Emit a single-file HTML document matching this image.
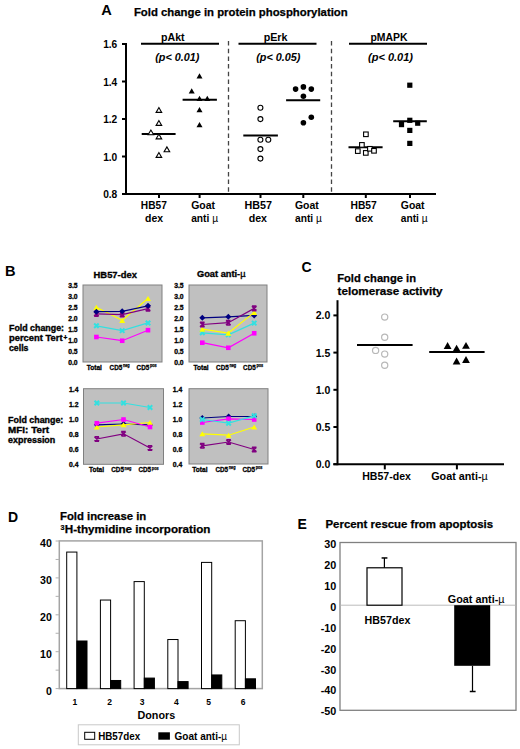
<!DOCTYPE html><html><head><meta charset="utf-8"><style>html,body{margin:0;padding:0;background:#fff;}svg{display:block;}</style></head><body>
<svg width="520" height="749" viewBox="0 0 520 749" style='font-family:"Liberation Sans",sans-serif;font-weight:bold;'>
<rect x="0" y="0" width="520" height="749" fill="#fff"/>
<text x="101.3" y="14.6" font-size="14.6" text-anchor="start" fill="#000" style="">A</text>
<text x="133.9" y="16.4" font-size="11" text-anchor="start" fill="#000" textLength="213.8" lengthAdjust="spacingAndGlyphs" stroke="#000" stroke-width="0.25" style="">Fold change in protein phosphorylation</text>
<line x1="126" y1="43" x2="126" y2="195" stroke="#000" stroke-width="2"/>
<line x1="122" y1="44.0" x2="126" y2="44.0" stroke="#000" stroke-width="2"/>
<text x="117.3" y="48.4" font-size="10.2" text-anchor="end" fill="#000" style="">1.6</text>
<line x1="122" y1="81.50000000000003" x2="126" y2="81.50000000000003" stroke="#000" stroke-width="2"/>
<text x="117.3" y="85.90000000000003" font-size="10.2" text-anchor="end" fill="#000" style="">1.4</text>
<line x1="122" y1="119.00000000000001" x2="126" y2="119.00000000000001" stroke="#000" stroke-width="2"/>
<text x="117.3" y="123.40000000000002" font-size="10.2" text-anchor="end" fill="#000" style="">1.2</text>
<line x1="122" y1="156.5" x2="126" y2="156.5" stroke="#000" stroke-width="2"/>
<text x="117.3" y="160.9" font-size="10.2" text-anchor="end" fill="#000" style="">1.0</text>
<line x1="122" y1="194.0" x2="126" y2="194.0" stroke="#000" stroke-width="2"/>
<text x="117.3" y="198.4" font-size="10.2" text-anchor="end" fill="#000" style="">0.8</text>
<line x1="122" y1="194" x2="436" y2="194" stroke="#000" stroke-width="2"/>
<line x1="159" y1="194" x2="159" y2="198" stroke="#000" stroke-width="2"/>
<line x1="199.6" y1="194" x2="199.6" y2="198" stroke="#000" stroke-width="2"/>
<line x1="260.5" y1="194" x2="260.5" y2="198" stroke="#000" stroke-width="2"/>
<line x1="303.3" y1="194" x2="303.3" y2="198" stroke="#000" stroke-width="2"/>
<line x1="365.8" y1="194" x2="365.8" y2="198" stroke="#000" stroke-width="2"/>
<line x1="410" y1="194" x2="410" y2="198" stroke="#000" stroke-width="2"/>
<line x1="228.5" y1="41" x2="228.5" y2="192" stroke="#444" stroke-width="1.3" stroke-dasharray="4.5,3.2"/>
<line x1="331.5" y1="41" x2="331.5" y2="192" stroke="#444" stroke-width="1.3" stroke-dasharray="4.5,3.2"/>
<line x1="141" y1="43.7" x2="219" y2="43.7" stroke="#000" stroke-width="2"/>
<line x1="238.5" y1="43.7" x2="316.5" y2="43.7" stroke="#000" stroke-width="2"/>
<line x1="349" y1="43.7" x2="427" y2="43.7" stroke="#000" stroke-width="2"/>
<text x="161" y="40.6" font-size="10.5" text-anchor="start" fill="#000" textLength="23.6" lengthAdjust="spacingAndGlyphs" style="">pAkt</text>
<text x="263.7" y="40.6" font-size="10.5" text-anchor="start" fill="#000" textLength="23.8" lengthAdjust="spacingAndGlyphs" style="">pErk</text>
<text x="370.5" y="40.6" font-size="10.5" text-anchor="start" fill="#000" textLength="37" lengthAdjust="spacingAndGlyphs" style="">pMAPK</text>
<text x="155.2" y="60.8" font-size="10.5" text-anchor="start" fill="#000" textLength="44.2" lengthAdjust="spacingAndGlyphs" style="font-style:italic;">(p&lt; 0.01)</text>
<text x="256.2" y="60.8" font-size="10.5" text-anchor="start" fill="#000" textLength="44.3" lengthAdjust="spacingAndGlyphs" style="font-style:italic;">(p&lt; 0.05)</text>
<text x="368" y="60.8" font-size="10.5" text-anchor="start" fill="#000" textLength="45" lengthAdjust="spacingAndGlyphs" style="font-style:italic;">(p&lt; 0.01)</text>
<text x="140.8" y="208.6" font-size="10.2" text-anchor="start" fill="#000" textLength="26" lengthAdjust="spacingAndGlyphs" style="">HB57</text>
<text x="145" y="221.5" font-size="10.2" text-anchor="start" fill="#000" textLength="18" lengthAdjust="spacingAndGlyphs" style="">dex</text>
<text x="244.5" y="208.6" font-size="10.2" text-anchor="start" fill="#000" textLength="27.5" lengthAdjust="spacingAndGlyphs" style="">HB57</text>
<text x="248.7" y="221.5" font-size="10.2" text-anchor="start" fill="#000" textLength="18.3" lengthAdjust="spacingAndGlyphs" style="">dex</text>
<text x="350.5" y="208.6" font-size="10.2" text-anchor="start" fill="#000" textLength="26.3" lengthAdjust="spacingAndGlyphs" style="">HB57</text>
<text x="355" y="221.5" font-size="10.2" text-anchor="start" fill="#000" textLength="18" lengthAdjust="spacingAndGlyphs" style="">dex</text>
<text x="191.2" y="209.0" font-size="10.2" text-anchor="start" fill="#000" textLength="23.8" lengthAdjust="spacingAndGlyphs" style="">Goat</text>
<text x="191.2" y="221.9" font-size="10.2" text-anchor="start" fill="#000" style="">anti <tspan font-weight="normal">µ</tspan></text>
<text x="295" y="209.0" font-size="10.2" text-anchor="start" fill="#000" textLength="23.8" lengthAdjust="spacingAndGlyphs" style="">Goat</text>
<text x="295" y="221.9" font-size="10.2" text-anchor="start" fill="#000" style="">anti <tspan font-weight="normal">µ</tspan></text>
<text x="400.8" y="209.0" font-size="10.2" text-anchor="start" fill="#000" textLength="23.8" lengthAdjust="spacingAndGlyphs" style="">Goat</text>
<text x="400.8" y="221.9" font-size="10.2" text-anchor="start" fill="#000" style="">anti <tspan font-weight="normal">µ</tspan></text>
<line x1="141.7" y1="134.1" x2="175.6" y2="134.1" stroke="#000" stroke-width="2"/>
<polygon points="156.10,112.42 161.70,112.42 158.90,107.58" fill="#fff" stroke="#000" stroke-width="1.1"/>
<polygon points="156.10,125.42 161.70,125.42 158.90,120.58" fill="#fff" stroke="#000" stroke-width="1.1"/>
<polygon points="148.10,134.82 153.70,134.82 150.90,129.98" fill="#fff" stroke="#000" stroke-width="1.1"/>
<polygon points="156.10,138.92 161.70,138.92 158.90,134.08" fill="#fff" stroke="#000" stroke-width="1.1"/>
<polygon points="164.10,151.72 169.70,151.72 166.90,146.88" fill="#fff" stroke="#000" stroke-width="1.1"/>
<polygon points="156.10,157.42 161.70,157.42 158.90,152.58" fill="#fff" stroke="#000" stroke-width="1.1"/>
<line x1="182.6" y1="99.7" x2="216.9" y2="99.7" stroke="#000" stroke-width="2"/>
<polygon points="196.50,78.40 202.50,78.40 199.50,73.20" fill="#000" stroke="none" stroke-width="1"/>
<polygon points="188.70,93.40 194.70,93.40 191.70,88.20" fill="#000" stroke="none" stroke-width="1"/>
<polygon points="196.50,101.00 202.50,101.00 199.50,95.80" fill="#000" stroke="none" stroke-width="1"/>
<polygon points="204.30,101.00 210.30,101.00 207.30,95.80" fill="#000" stroke="none" stroke-width="1"/>
<polygon points="196.50,112.20 202.50,112.20 199.50,107.00" fill="#000" stroke="none" stroke-width="1"/>
<polygon points="196.50,127.20 202.50,127.20 199.50,122.00" fill="#000" stroke="none" stroke-width="1"/>
<line x1="243.3" y1="135.5" x2="277.9" y2="135.5" stroke="#000" stroke-width="2"/>
<circle cx="260.4" cy="107.8" r="2.5" fill="#fff" stroke="#000" stroke-width="1.1"/>
<circle cx="260.4" cy="119.1" r="2.5" fill="#fff" stroke="#000" stroke-width="1.1"/>
<circle cx="260.4" cy="139.7" r="2.5" fill="#fff" stroke="#000" stroke-width="1.1"/>
<circle cx="268.3" cy="139.7" r="2.5" fill="#fff" stroke="#000" stroke-width="1.1"/>
<circle cx="260.4" cy="149.1" r="2.5" fill="#fff" stroke="#000" stroke-width="1.1"/>
<circle cx="260.4" cy="158.6" r="2.5" fill="#fff" stroke="#000" stroke-width="1.1"/>
<line x1="286.1" y1="100.3" x2="320.2" y2="100.3" stroke="#000" stroke-width="2"/>
<circle cx="295.6" cy="89.1" r="2.8" fill="#000" stroke="none" stroke-width="1"/>
<circle cx="303.4" cy="86.9" r="2.8" fill="#000" stroke="none" stroke-width="1"/>
<circle cx="311.3" cy="89.1" r="2.8" fill="#000" stroke="none" stroke-width="1"/>
<circle cx="303.4" cy="96.2" r="2.8" fill="#000" stroke="none" stroke-width="1"/>
<circle cx="311.3" cy="117.2" r="2.8" fill="#000" stroke="none" stroke-width="1"/>
<circle cx="303.4" cy="122.8" r="2.8" fill="#000" stroke="none" stroke-width="1"/>
<line x1="348.5" y1="147.2" x2="382.6" y2="147.2" stroke="#000" stroke-width="2"/>
<rect x="363.60" y="132.00" width="4.6" height="4.6" fill="#fff" stroke="#000" stroke-width="1.1"/>
<rect x="359.60" y="142.60" width="4.6" height="4.6" fill="#fff" stroke="#000" stroke-width="1.1"/>
<rect x="355.50" y="148.80" width="4.6" height="4.6" fill="#fff" stroke="#000" stroke-width="1.1"/>
<rect x="363.50" y="150.60" width="4.6" height="4.6" fill="#fff" stroke="#000" stroke-width="1.1"/>
<rect x="367.60" y="146.50" width="4.6" height="4.6" fill="#fff" stroke="#000" stroke-width="1.1"/>
<rect x="371.70" y="148.50" width="4.6" height="4.6" fill="#fff" stroke="#000" stroke-width="1.1"/>
<line x1="393.2" y1="121.3" x2="426.8" y2="121.3" stroke="#000" stroke-width="2"/>
<rect x="407.20" y="82.60" width="5.2" height="5.2" fill="#000" stroke="none" stroke-width="1"/>
<rect x="407.20" y="117.70" width="5.2" height="5.2" fill="#000" stroke="none" stroke-width="1"/>
<rect x="398.90" y="122.00" width="5.2" height="5.2" fill="#000" stroke="none" stroke-width="1"/>
<rect x="415.10" y="120.60" width="5.2" height="5.2" fill="#000" stroke="none" stroke-width="1"/>
<rect x="407.20" y="127.80" width="5.2" height="5.2" fill="#000" stroke="none" stroke-width="1"/>
<rect x="407.20" y="140.80" width="5.2" height="5.2" fill="#000" stroke="none" stroke-width="1"/>
<text x="5.0" y="275.5" font-size="14.6" text-anchor="start" fill="#000" style="">B</text>
<rect x="83" y="285" width="79" height="77" fill="#c0c0c0" stroke="#808080" stroke-width="1"/>
<text x="77.6" y="287.8" font-size="6.8" text-anchor="end" fill="#000" stroke="#000" stroke-width="0.3" style="">3.5</text>
<text x="77.6" y="298.8" font-size="6.8" text-anchor="end" fill="#000" stroke="#000" stroke-width="0.3" style="">3.0</text>
<text x="77.6" y="309.8" font-size="6.8" text-anchor="end" fill="#000" stroke="#000" stroke-width="0.3" style="">2.5</text>
<text x="77.6" y="320.8" font-size="6.8" text-anchor="end" fill="#000" stroke="#000" stroke-width="0.3" style="">2.0</text>
<text x="77.6" y="331.8" font-size="6.8" text-anchor="end" fill="#000" stroke="#000" stroke-width="0.3" style="">1.5</text>
<text x="77.6" y="342.8" font-size="6.8" text-anchor="end" fill="#000" stroke="#000" stroke-width="0.3" style="">1.0</text>
<text x="77.6" y="353.8" font-size="6.8" text-anchor="end" fill="#000" stroke="#000" stroke-width="0.3" style="">0.5</text>
<text x="77.6" y="364.8" font-size="6.8" text-anchor="end" fill="#000" stroke="#000" stroke-width="0.3" style="">0.0</text>
<polyline points="96.4,307.3 122.2,320.3 148,298.5" fill="none" stroke="#ffff00" stroke-width="1.2"/>
<polygon points="93.40,309.90 99.40,309.90 96.40,304.70" fill="#ffff00" stroke="none" stroke-width="1"/>
<polygon points="119.20,322.88 125.20,322.88 122.20,317.68" fill="#ffff00" stroke="none" stroke-width="1"/>
<polygon points="145.00,301.10 151.00,301.10 148.00,295.90" fill="#ffff00" stroke="none" stroke-width="1"/>
<polyline points="96.4,325.8 122.2,330.6 148,322.9" fill="none" stroke="#33e0e0" stroke-width="1.2"/>
<path d="M94.15,323.53000000000003L98.65,328.03000000000003M98.65,323.53000000000003L94.15,328.03000000000003" stroke="#33e0e0" stroke-width="2" fill="none"/>
<path d="M119.95,328.37L124.45,332.87M124.45,328.37L119.95,332.87" stroke="#33e0e0" stroke-width="2" fill="none"/>
<path d="M145.75,320.67L150.25,325.17M150.25,320.67L145.75,325.17" stroke="#33e0e0" stroke-width="2" fill="none"/>
<polyline points="96.4,337.0 122.2,340.7 148,330.2" fill="none" stroke="#ff00ff" stroke-width="1.2"/>
<rect x="94.10" y="334.70" width="4.6" height="4.6" fill="#ff00ff" stroke="none" stroke-width="1"/>
<rect x="119.90" y="338.44" width="4.6" height="4.6" fill="#ff00ff" stroke="none" stroke-width="1"/>
<rect x="145.70" y="327.88" width="4.6" height="4.6" fill="#ff00ff" stroke="none" stroke-width="1"/>
<polyline points="96.4,313.9 122.2,314.6 148,308.6" fill="none" stroke="#800080" stroke-width="1.2"/>
<path d="M94.15,311.65L98.65,316.15M98.65,311.65L94.15,316.15M94.15,311.65H98.65M94.15,316.15H98.65" stroke="#800080" stroke-width="1.6" fill="none"/>
<path d="M119.95,312.31L124.45,316.81M124.45,312.31L119.95,316.81M119.95,312.31H124.45M119.95,316.81H124.45" stroke="#800080" stroke-width="1.6" fill="none"/>
<path d="M145.75,306.37L150.25,310.87M150.25,306.37L145.75,310.87M145.75,306.37H150.25M145.75,310.87H150.25" stroke="#800080" stroke-width="1.6" fill="none"/>
<polyline points="96.4,311.7 122.2,311.3 148,305.8" fill="none" stroke="#000080" stroke-width="1.2"/>
<polygon points="96.4,308.70000000000005 99.4,311.70000000000005 96.4,314.70000000000005 93.4,311.70000000000005" fill="#000080"/>
<polygon points="122.2,308.26 125.2,311.26 122.2,314.26 119.2,311.26" fill="#000080"/>
<polygon points="148,302.76 151.0,305.76 148,308.76 145.0,305.76" fill="#000080"/>
<text x="86.7" y="370" font-size="6.8" text-anchor="start" fill="#000" textLength="15.2" lengthAdjust="spacingAndGlyphs" stroke="#000" stroke-width="0.3" style="">Total</text>
<text x="109.6" y="370" font-size="6.8" text-anchor="start" fill="#000" textLength="12.6" lengthAdjust="spacingAndGlyphs" stroke="#000" stroke-width="0.3" style="">CD5</text>
<text x="122.89999999999999" y="367.3" font-size="4.6" text-anchor="start" fill="#000" textLength="6.8" lengthAdjust="spacingAndGlyphs" stroke="#000" stroke-width="0.25" style="">neg</text>
<text x="136.6" y="370" font-size="6.8" text-anchor="start" fill="#000" textLength="12.6" lengthAdjust="spacingAndGlyphs" stroke="#000" stroke-width="0.3" style="">CD5</text>
<text x="149.9" y="367.3" font-size="4.6" text-anchor="start" fill="#000" textLength="6.8" lengthAdjust="spacingAndGlyphs" stroke="#000" stroke-width="0.25" style="">pos</text>
<rect x="189" y="285" width="78" height="77" fill="#c0c0c0" stroke="#808080" stroke-width="1"/>
<text x="183.6" y="287.8" font-size="6.8" text-anchor="end" fill="#000" stroke="#000" stroke-width="0.3" style="">3.5</text>
<text x="183.6" y="298.8" font-size="6.8" text-anchor="end" fill="#000" stroke="#000" stroke-width="0.3" style="">3.0</text>
<text x="183.6" y="309.8" font-size="6.8" text-anchor="end" fill="#000" stroke="#000" stroke-width="0.3" style="">2.5</text>
<text x="183.6" y="320.8" font-size="6.8" text-anchor="end" fill="#000" stroke="#000" stroke-width="0.3" style="">2.0</text>
<text x="183.6" y="331.8" font-size="6.8" text-anchor="end" fill="#000" stroke="#000" stroke-width="0.3" style="">1.5</text>
<text x="183.6" y="342.8" font-size="6.8" text-anchor="end" fill="#000" stroke="#000" stroke-width="0.3" style="">1.0</text>
<text x="183.6" y="353.8" font-size="6.8" text-anchor="end" fill="#000" stroke="#000" stroke-width="0.3" style="">0.5</text>
<text x="183.6" y="364.8" font-size="6.8" text-anchor="end" fill="#000" stroke="#000" stroke-width="0.3" style="">0.0</text>
<polyline points="202.3,317.9 228.3,316.8 254.2,315.4" fill="none" stroke="#000080" stroke-width="1.2"/>
<polygon points="202.3,314.86 205.3,317.86 202.3,320.86 199.3,317.86" fill="#000080"/>
<polygon points="228.3,313.76 231.3,316.76 228.3,319.76 225.3,316.76" fill="#000080"/>
<polygon points="254.2,312.44 257.2,315.44 254.2,318.44 251.2,315.44" fill="#000080"/>
<polyline points="202.3,332.8 228.3,334.8 254.2,323.1" fill="none" stroke="#33e0e0" stroke-width="1.2"/>
<path d="M200.05,330.57L204.55,335.07M204.55,330.57L200.05,335.07" stroke="#33e0e0" stroke-width="2" fill="none"/>
<path d="M226.05,332.55L230.55,337.05M230.55,332.55L226.05,337.05" stroke="#33e0e0" stroke-width="2" fill="none"/>
<path d="M251.95,320.89L256.45,325.39M256.45,320.89L251.95,325.39" stroke="#33e0e0" stroke-width="2" fill="none"/>
<polyline points="202.3,329.1 228.3,333.0 254.2,312.4" fill="none" stroke="#ffff00" stroke-width="1.2"/>
<polygon points="199.30,331.68 205.30,331.68 202.30,326.48" fill="#ffff00" stroke="none" stroke-width="1"/>
<polygon points="225.30,335.64 231.30,335.64 228.30,330.44" fill="#ffff00" stroke="none" stroke-width="1"/>
<polygon points="251.20,314.96 257.20,314.96 254.20,309.76" fill="#ffff00" stroke="none" stroke-width="1"/>
<polyline points="202.3,324.5 228.3,322.7 254.2,308.4" fill="none" stroke="#800080" stroke-width="1.2"/>
<path d="M200.05,322.21000000000004L204.55,326.71000000000004M204.55,322.21000000000004L200.05,326.71000000000004M200.05,322.21000000000004H204.55M200.05,326.71000000000004H204.55" stroke="#800080" stroke-width="1.6" fill="none"/>
<path d="M226.05,320.45L230.55,324.95M230.55,320.45L226.05,324.95M226.05,320.45H230.55M226.05,324.95H230.55" stroke="#800080" stroke-width="1.6" fill="none"/>
<path d="M251.95,306.15L256.45,310.65M256.45,306.15L251.95,310.65M251.95,306.15H256.45M251.95,310.65H256.45" stroke="#800080" stroke-width="1.6" fill="none"/>
<polyline points="202.3,342.7 228.3,347.8 254.2,333.3" fill="none" stroke="#ff00ff" stroke-width="1.2"/>
<rect x="200.00" y="340.42" width="4.6" height="4.6" fill="#ff00ff" stroke="none" stroke-width="1"/>
<rect x="226.00" y="345.48" width="4.6" height="4.6" fill="#ff00ff" stroke="none" stroke-width="1"/>
<rect x="251.90" y="330.96" width="4.6" height="4.6" fill="#ff00ff" stroke="none" stroke-width="1"/>
<text x="193.5" y="370" font-size="6.8" text-anchor="start" fill="#000" textLength="15.2" lengthAdjust="spacingAndGlyphs" stroke="#000" stroke-width="0.3" style="">Total</text>
<text x="216.1" y="370" font-size="6.8" text-anchor="start" fill="#000" textLength="12.6" lengthAdjust="spacingAndGlyphs" stroke="#000" stroke-width="0.3" style="">CD5</text>
<text x="229.4" y="367.3" font-size="4.6" text-anchor="start" fill="#000" textLength="6.8" lengthAdjust="spacingAndGlyphs" stroke="#000" stroke-width="0.25" style="">neg</text>
<text x="243.1" y="370" font-size="6.8" text-anchor="start" fill="#000" textLength="12.6" lengthAdjust="spacingAndGlyphs" stroke="#000" stroke-width="0.3" style="">CD5</text>
<text x="256.4" y="367.3" font-size="4.6" text-anchor="start" fill="#000" textLength="6.8" lengthAdjust="spacingAndGlyphs" stroke="#000" stroke-width="0.25" style="">pos</text>
<rect x="83.5" y="388.7" width="80.0" height="75.60000000000002" fill="#c0c0c0" stroke="#808080" stroke-width="1"/>
<text x="78.5" y="392.0" font-size="6.8" text-anchor="end" fill="#000" stroke="#000" stroke-width="0.3" style="">1.4</text>
<text x="78.5" y="407.0" font-size="6.8" text-anchor="end" fill="#000" stroke="#000" stroke-width="0.3" style="">1.2</text>
<text x="78.5" y="422.0" font-size="6.8" text-anchor="end" fill="#000" stroke="#000" stroke-width="0.3" style="">1.0</text>
<text x="78.5" y="437.0" font-size="6.8" text-anchor="end" fill="#000" stroke="#000" stroke-width="0.3" style="">0.8</text>
<text x="78.5" y="452.0" font-size="6.8" text-anchor="end" fill="#000" stroke="#000" stroke-width="0.3" style="">0.6</text>
<text x="78.5" y="467.0" font-size="6.8" text-anchor="end" fill="#000" stroke="#000" stroke-width="0.3" style="">0.4</text>
<polyline points="96.8,424.8 123.5,424.0 150,424.8" fill="none" stroke="#000080" stroke-width="1.2"/>
<polygon points="96.8,421.75 99.8,424.75 96.8,427.75 93.8,424.75" fill="#000080"/>
<polygon points="123.5,421.0 126.5,424.0 123.5,427.0 120.5,424.0" fill="#000080"/>
<polygon points="150,421.75 153.0,424.75 150,427.75 147.0,424.75" fill="#000080"/>
<polyline points="96.8,427.0 123.5,424.8 150,422.5" fill="none" stroke="#ffff00" stroke-width="1.2"/>
<polygon points="93.80,429.60 99.80,429.60 96.80,424.40" fill="#ffff00" stroke="none" stroke-width="1"/>
<polygon points="120.50,427.35 126.50,427.35 123.50,422.15" fill="#ffff00" stroke="none" stroke-width="1"/>
<polygon points="147.00,425.10 153.00,425.10 150.00,419.90" fill="#ffff00" stroke="none" stroke-width="1"/>
<polyline points="96.8,423.2 123.5,419.5 150,427.0" fill="none" stroke="#ff00ff" stroke-width="1.2"/>
<rect x="94.50" y="420.95" width="4.6" height="4.6" fill="#ff00ff" stroke="none" stroke-width="1"/>
<rect x="121.20" y="417.20" width="4.6" height="4.6" fill="#ff00ff" stroke="none" stroke-width="1"/>
<rect x="147.70" y="424.70" width="4.6" height="4.6" fill="#ff00ff" stroke="none" stroke-width="1"/>
<polyline points="96.8,439.0 123.5,433.8 150,448.0" fill="none" stroke="#800080" stroke-width="1.2"/>
<path d="M94.55,436.75L99.05,441.25M99.05,436.75L94.55,441.25M94.55,436.75H99.05M94.55,441.25H99.05" stroke="#800080" stroke-width="1.6" fill="none"/>
<path d="M121.25,431.5L125.75,436.0M125.75,431.5L121.25,436.0M121.25,431.5H125.75M121.25,436.0H125.75" stroke="#800080" stroke-width="1.6" fill="none"/>
<path d="M147.75,445.75L152.25,450.25M152.25,445.75L147.75,450.25M147.75,445.75H152.25M147.75,450.25H152.25" stroke="#800080" stroke-width="1.6" fill="none"/>
<polyline points="96.8,403.0 123.5,403.0 150,407.5" fill="none" stroke="#33e0e0" stroke-width="1.2"/>
<path d="M94.55,400.75L99.05,405.25M99.05,400.75L94.55,405.25" stroke="#33e0e0" stroke-width="2" fill="none"/>
<path d="M121.25,400.75L125.75,405.25M125.75,400.75L121.25,405.25" stroke="#33e0e0" stroke-width="2" fill="none"/>
<path d="M147.75,405.25L152.25,409.75M152.25,405.25L147.75,409.75" stroke="#33e0e0" stroke-width="2" fill="none"/>
<text x="88.9" y="472.3" font-size="6.8" text-anchor="start" fill="#000" textLength="15.2" lengthAdjust="spacingAndGlyphs" stroke="#000" stroke-width="0.3" style="">Total</text>
<text x="111.3" y="472.3" font-size="6.8" text-anchor="start" fill="#000" textLength="12.6" lengthAdjust="spacingAndGlyphs" stroke="#000" stroke-width="0.3" style="">CD5</text>
<text x="124.6" y="469.6" font-size="4.6" text-anchor="start" fill="#000" textLength="6.8" lengthAdjust="spacingAndGlyphs" stroke="#000" stroke-width="0.25" style="">neg</text>
<text x="138.5" y="472.3" font-size="6.8" text-anchor="start" fill="#000" textLength="12.6" lengthAdjust="spacingAndGlyphs" stroke="#000" stroke-width="0.3" style="">CD5</text>
<text x="151.8" y="469.6" font-size="4.6" text-anchor="start" fill="#000" textLength="6.8" lengthAdjust="spacingAndGlyphs" stroke="#000" stroke-width="0.25" style="">pos</text>
<rect x="189" y="388.7" width="79" height="75.30000000000001" fill="#c0c0c0" stroke="#808080" stroke-width="1"/>
<text x="182.3" y="392.0" font-size="6.8" text-anchor="end" fill="#000" stroke="#000" stroke-width="0.3" style="">1.4</text>
<text x="182.3" y="407.0" font-size="6.8" text-anchor="end" fill="#000" stroke="#000" stroke-width="0.3" style="">1.2</text>
<text x="182.3" y="422.0" font-size="6.8" text-anchor="end" fill="#000" stroke="#000" stroke-width="0.3" style="">1.0</text>
<text x="182.3" y="437.0" font-size="6.8" text-anchor="end" fill="#000" stroke="#000" stroke-width="0.3" style="">0.8</text>
<text x="182.3" y="452.0" font-size="6.8" text-anchor="end" fill="#000" stroke="#000" stroke-width="0.3" style="">0.6</text>
<text x="182.3" y="467.0" font-size="6.8" text-anchor="end" fill="#000" stroke="#000" stroke-width="0.3" style="">0.4</text>
<polyline points="202.3,418.0 228.6,416.5 254.2,416.5" fill="none" stroke="#000080" stroke-width="1.2"/>
<polygon points="202.3,415.0 205.3,418.0 202.3,421.0 199.3,418.0" fill="#000080"/>
<polygon points="228.6,413.5 231.6,416.5 228.6,419.5 225.6,416.5" fill="#000080"/>
<polygon points="254.2,413.5 257.2,416.5 254.2,419.5 251.2,416.5" fill="#000080"/>
<polyline points="202.3,433.8 228.6,435.2 254.2,427.0" fill="none" stroke="#ffff00" stroke-width="1.2"/>
<polygon points="199.30,436.35 205.30,436.35 202.30,431.15" fill="#ffff00" stroke="none" stroke-width="1"/>
<polygon points="225.60,437.85 231.60,437.85 228.60,432.65" fill="#ffff00" stroke="none" stroke-width="1"/>
<polygon points="251.20,429.60 257.20,429.60 254.20,424.40" fill="#ffff00" stroke="none" stroke-width="1"/>
<polyline points="202.3,445.8 228.6,442.0 254.2,449.5" fill="none" stroke="#800080" stroke-width="1.2"/>
<path d="M200.05,443.5L204.55,448.0M204.55,443.5L200.05,448.0M200.05,443.5H204.55M200.05,448.0H204.55" stroke="#800080" stroke-width="1.6" fill="none"/>
<path d="M226.35,439.75L230.85,444.25M230.85,439.75L226.35,444.25M226.35,439.75H230.85M226.35,444.25H230.85" stroke="#800080" stroke-width="1.6" fill="none"/>
<path d="M251.95,447.25L256.45,451.75M256.45,447.25L251.95,451.75M251.95,447.25H256.45M251.95,451.75H256.45" stroke="#800080" stroke-width="1.6" fill="none"/>
<polyline points="202.3,422.5 228.6,418.8 254.2,419.5" fill="none" stroke="#ff00ff" stroke-width="1.2"/>
<rect x="200.00" y="420.20" width="4.6" height="4.6" fill="#ff00ff" stroke="none" stroke-width="1"/>
<rect x="226.30" y="416.45" width="4.6" height="4.6" fill="#ff00ff" stroke="none" stroke-width="1"/>
<rect x="251.90" y="417.20" width="4.6" height="4.6" fill="#ff00ff" stroke="none" stroke-width="1"/>
<polyline points="202.3,419.5 228.6,423.2 254.2,415.8" fill="none" stroke="#33e0e0" stroke-width="1.2"/>
<path d="M200.05,417.25L204.55,421.75M204.55,417.25L200.05,421.75" stroke="#33e0e0" stroke-width="2" fill="none"/>
<path d="M226.35,421.0L230.85,425.5M230.85,421.0L226.35,425.5" stroke="#33e0e0" stroke-width="2" fill="none"/>
<path d="M251.95,413.5L256.45,418.0M256.45,413.5L251.95,418.0" stroke="#33e0e0" stroke-width="2" fill="none"/>
<text x="192.3" y="472" font-size="6.8" text-anchor="start" fill="#000" textLength="15.2" lengthAdjust="spacingAndGlyphs" stroke="#000" stroke-width="0.3" style="">Total</text>
<text x="215.4" y="472" font-size="6.8" text-anchor="start" fill="#000" textLength="12.6" lengthAdjust="spacingAndGlyphs" stroke="#000" stroke-width="0.3" style="">CD5</text>
<text x="228.70000000000002" y="469.3" font-size="4.6" text-anchor="start" fill="#000" textLength="6.8" lengthAdjust="spacingAndGlyphs" stroke="#000" stroke-width="0.25" style="">neg</text>
<text x="242.4" y="472" font-size="6.8" text-anchor="start" fill="#000" textLength="12.6" lengthAdjust="spacingAndGlyphs" stroke="#000" stroke-width="0.3" style="">CD5</text>
<text x="255.70000000000002" y="469.3" font-size="4.6" text-anchor="start" fill="#000" textLength="6.8" lengthAdjust="spacingAndGlyphs" stroke="#000" stroke-width="0.25" style="">pos</text>
<text x="93.6" y="277.7" font-size="8.2" text-anchor="start" fill="#000" textLength="43.3" lengthAdjust="spacingAndGlyphs" stroke="#000" stroke-width="0.3" style="">HB57-dex</text>
<text x="197" y="277.4" font-size="8.2" text-anchor="start" fill="#000" textLength="48.5" lengthAdjust="spacingAndGlyphs" stroke="#000" stroke-width="0.3" style="">Goat anti-<tspan font-weight="normal">µ</tspan></text>
<text x="9.0" y="330.6" font-size="8.8" text-anchor="start" fill="#000" textLength="55" lengthAdjust="spacingAndGlyphs" stroke="#000" stroke-width="0.35" style="">Fold change:</text>
<text x="9.0" y="340.8" font-size="8.8" text-anchor="start" fill="#000" textLength="53.5" lengthAdjust="spacingAndGlyphs" stroke="#000" stroke-width="0.35" style="">percent Tert</text>
<text x="63.6" y="339.6" font-size="6.5" text-anchor="start" fill="#000" stroke="#000" stroke-width="0.35" style="">+</text>
<text x="9.0" y="351.0" font-size="8.8" text-anchor="start" fill="#000" textLength="19.5" lengthAdjust="spacingAndGlyphs" stroke="#000" stroke-width="0.35" style="">cells</text>
<text x="8.1" y="423.1" font-size="8.8" text-anchor="start" fill="#000" textLength="55.2" lengthAdjust="spacingAndGlyphs" stroke="#000" stroke-width="0.35" style="">Fold change:</text>
<text x="8.1" y="433.4" font-size="8.8" text-anchor="start" fill="#000" textLength="41" lengthAdjust="spacingAndGlyphs" stroke="#000" stroke-width="0.35" style="">MFI: Tert</text>
<text x="8.1" y="443.3" font-size="8.8" text-anchor="start" fill="#000" textLength="47.2" lengthAdjust="spacingAndGlyphs" stroke="#000" stroke-width="0.35" style="">expression</text>
<text x="301.6" y="272.0" font-size="14" text-anchor="start" fill="#000" style="">C</text>
<text x="337.2" y="282.3" font-size="10.8" text-anchor="start" fill="#000" textLength="78.8" lengthAdjust="spacingAndGlyphs" stroke="#000" stroke-width="0.25" style="">Fold change in</text>
<text x="337.6" y="294.7" font-size="10.8" text-anchor="start" fill="#000" textLength="105" lengthAdjust="spacingAndGlyphs" stroke="#000" stroke-width="0.25" style="">telomerase activity</text>
<line x1="337.5" y1="300.2" x2="337.5" y2="465.2" stroke="#000" stroke-width="2"/>
<line x1="333.4" y1="464.2" x2="504" y2="464.2" stroke="#000" stroke-width="2"/>
<line x1="333.4" y1="315.4" x2="337.5" y2="315.4" stroke="#000" stroke-width="2"/>
<text x="330.3" y="319.29999999999995" font-size="10.5" text-anchor="end" fill="#000" style="">2.0</text>
<line x1="333.4" y1="352.59999999999997" x2="337.5" y2="352.59999999999997" stroke="#000" stroke-width="2"/>
<text x="330.3" y="356.49999999999994" font-size="10.5" text-anchor="end" fill="#000" style="">1.5</text>
<line x1="333.4" y1="389.79999999999995" x2="337.5" y2="389.79999999999995" stroke="#000" stroke-width="2"/>
<text x="330.3" y="393.69999999999993" font-size="10.5" text-anchor="end" fill="#000" style="">1.0</text>
<line x1="333.4" y1="427.0" x2="337.5" y2="427.0" stroke="#000" stroke-width="2"/>
<text x="330.3" y="430.9" font-size="10.5" text-anchor="end" fill="#000" style="">0.5</text>
<line x1="333.4" y1="464.2" x2="337.5" y2="464.2" stroke="#000" stroke-width="2"/>
<text x="330.3" y="468.09999999999997" font-size="10.5" text-anchor="end" fill="#000" style="">0.0</text>
<line x1="384.8" y1="464.2" x2="384.8" y2="469.4" stroke="#000" stroke-width="2"/>
<line x1="456.9" y1="464.2" x2="456.9" y2="469.4" stroke="#000" stroke-width="2"/>
<text x="362.2" y="480.1" font-size="10.4" text-anchor="start" fill="#000" textLength="48.7" lengthAdjust="spacingAndGlyphs" style="">HB57-dex</text>
<text x="431.2" y="480.1" font-size="10.4" text-anchor="start" fill="#000" textLength="56.6" lengthAdjust="spacingAndGlyphs" style="">Goat anti-<tspan font-weight="normal">µ</tspan></text>
<line x1="357" y1="345" x2="412.6" y2="345" stroke="#000" stroke-width="2"/>
<circle cx="384.7" cy="317.1" r="3.1" fill="#fff" stroke="#b8b8b8" stroke-width="1.2"/>
<circle cx="384.7" cy="337.3" r="3.1" fill="#fff" stroke="#b8b8b8" stroke-width="1.2"/>
<circle cx="375.6" cy="350.4" r="3.1" fill="#fff" stroke="#b8b8b8" stroke-width="1.2"/>
<circle cx="384.7" cy="354.1" r="3.1" fill="#fff" stroke="#b8b8b8" stroke-width="1.2"/>
<circle cx="384.7" cy="365.2" r="3.1" fill="#fff" stroke="#b8b8b8" stroke-width="1.2"/>
<polygon points="443.70,348.88 451.50,348.88 447.60,342.12" fill="#000" stroke="none" stroke-width="1"/>
<polygon points="452.70,351.58 460.50,351.58 456.60,344.82" fill="#000" stroke="none" stroke-width="1"/>
<polygon points="462.10,348.68 469.90,348.68 466.00,341.92" fill="#000" stroke="none" stroke-width="1"/>
<polygon points="452.70,364.38 460.50,364.38 456.60,357.62" fill="#000" stroke="none" stroke-width="1"/>
<polygon points="462.10,362.88 469.90,362.88 466.00,356.12" fill="#000" stroke="none" stroke-width="1"/>
<line x1="429.2" y1="351.9" x2="484.6" y2="351.9" stroke="#000" stroke-width="2"/>
<text x="8.0" y="522.4" font-size="14" text-anchor="start" fill="#000" style="">D</text>
<text x="60.0" y="520.2" font-size="10.6" text-anchor="start" fill="#000" textLength="86.2" lengthAdjust="spacingAndGlyphs" stroke="#000" stroke-width="0.25" style="">Fold increase in</text>
<text x="60.6" y="529.6" font-size="7.2" text-anchor="start" fill="#000" stroke="#000" stroke-width="0.2" style="">3</text>
<text x="64.8" y="533.1" font-size="10.6" text-anchor="start" fill="#000" textLength="145.6" lengthAdjust="spacingAndGlyphs" stroke="#000" stroke-width="0.25" style="">H-thymidine incorporation</text>
<rect x="59.3" y="540.9" width="203.0" height="147.7" fill="#fff" stroke="#a4a4a4" stroke-width="1.5"/>
<line x1="55.6" y1="688.6" x2="59.3" y2="688.6" stroke="#b0b0b0" stroke-width="1"/>
<line x1="55.6" y1="670.15" x2="59.3" y2="670.15" stroke="#b0b0b0" stroke-width="1"/>
<line x1="55.6" y1="651.7" x2="59.3" y2="651.7" stroke="#b0b0b0" stroke-width="1"/>
<line x1="55.6" y1="633.25" x2="59.3" y2="633.25" stroke="#b0b0b0" stroke-width="1"/>
<line x1="55.6" y1="614.8000000000001" x2="59.3" y2="614.8000000000001" stroke="#b0b0b0" stroke-width="1"/>
<line x1="55.6" y1="596.35" x2="59.3" y2="596.35" stroke="#b0b0b0" stroke-width="1"/>
<line x1="55.6" y1="577.9" x2="59.3" y2="577.9" stroke="#b0b0b0" stroke-width="1"/>
<line x1="55.6" y1="559.45" x2="59.3" y2="559.45" stroke="#b0b0b0" stroke-width="1"/>
<line x1="55.6" y1="541.0" x2="59.3" y2="541.0" stroke="#b0b0b0" stroke-width="1"/>
<text x="51.8" y="546.9" font-size="10.6" text-anchor="end" fill="#000" style="">40</text>
<text x="51.8" y="583.8" font-size="10.6" text-anchor="end" fill="#000" style="">30</text>
<text x="51.8" y="620.7" font-size="10.6" text-anchor="end" fill="#000" style="">20</text>
<text x="51.8" y="657.6" font-size="10.6" text-anchor="end" fill="#000" style="">10</text>
<text x="51.8" y="694.5" font-size="10.6" text-anchor="end" fill="#000" style="">0</text>
<rect x="66.7" y="552.07" width="10.2" height="136.52999999999997" fill="#fff" stroke="#000" stroke-width="1.0"/>
<rect x="76.9" y="640.999" width="10.1" height="47.601" fill="#000" stroke="#000" stroke-width="1.0"/>
<text x="74.8" y="705.2" font-size="8.5" text-anchor="middle" fill="#000" style="">1</text>
<rect x="100.4" y="600.04" width="10.2" height="88.56000000000006" fill="#fff" stroke="#000" stroke-width="1.0"/>
<rect x="110.60000000000001" y="680.482" width="10.1" height="8.118000000000052" fill="#000" stroke="#000" stroke-width="1.0"/>
<text x="109.7" y="705.2" font-size="8.5" text-anchor="middle" fill="#000" style="">2</text>
<rect x="134.10000000000002" y="581.59" width="10.2" height="107.00999999999999" fill="#fff" stroke="#000" stroke-width="1.0"/>
<rect x="144.3" y="678.0835000000001" width="10.1" height="10.51649999999995" fill="#000" stroke="#000" stroke-width="1.0"/>
<text x="142.1" y="705.2" font-size="8.5" text-anchor="middle" fill="#000" style="">3</text>
<rect x="167.8" y="639.523" width="10.2" height="49.077" fill="#fff" stroke="#000" stroke-width="1.0"/>
<rect x="178.0" y="681.589" width="10.1" height="7.010999999999967" fill="#000" stroke="#000" stroke-width="1.0"/>
<text x="176.4" y="705.2" font-size="8.5" text-anchor="middle" fill="#000" style="">4</text>
<rect x="201.50000000000003" y="562.402" width="10.2" height="126.19799999999998" fill="#fff" stroke="#000" stroke-width="1.0"/>
<rect x="211.70000000000002" y="674.947" width="10.1" height="13.65300000000002" fill="#000" stroke="#000" stroke-width="1.0"/>
<text x="208.6" y="705.2" font-size="8.5" text-anchor="middle" fill="#000" style="">5</text>
<rect x="235.20000000000002" y="620.7040000000001" width="10.2" height="67.89599999999996" fill="#fff" stroke="#000" stroke-width="1.0"/>
<rect x="245.4" y="678.8215" width="10.1" height="9.778500000000008" fill="#000" stroke="#000" stroke-width="1.0"/>
<text x="243.2" y="705.2" font-size="8.5" text-anchor="middle" fill="#000" style="">6</text>
<text x="137.5" y="718.7" font-size="10.8" text-anchor="start" fill="#000" textLength="37.7" lengthAdjust="spacingAndGlyphs" style="">Donors</text>
<rect x="78.3" y="724.8" width="161" height="20" fill="#fff" stroke="#c8c8c8" stroke-width="1"/>
<rect x="84.7" y="732.3" width="10" height="7" fill="#fff" stroke="#000" stroke-width="1"/>
<text x="98.2" y="739.5" font-size="10" text-anchor="start" fill="#000" textLength="42" lengthAdjust="spacingAndGlyphs" style="">HB57dex</text>
<rect x="158.3" y="732.3" width="11.6" height="7.4" fill="#000" stroke="none" stroke-width="1"/>
<text x="174.6" y="739.5" font-size="10" text-anchor="start" fill="#000" style="">Goat anti-<tspan font-weight="normal">µ</tspan></text>
<text x="297.6" y="528.9" font-size="14" text-anchor="start" fill="#000" style="">E</text>
<text x="325.5" y="527.6" font-size="10.8" text-anchor="start" fill="#000" textLength="167.6" lengthAdjust="spacingAndGlyphs" stroke="#000" stroke-width="0.25" style="">Percent rescue from apoptosis</text>
<rect x="340" y="542.5" width="176" height="167.8" fill="#fff" stroke="#808080" stroke-width="1.3"/>
<line x1="340.6" y1="605.2" x2="515.4" y2="605.2" stroke="#bbb" stroke-width="1"/>
<text x="336.3" y="548.1" font-size="10.8" text-anchor="end" fill="#000" style="">30</text>
<text x="336.3" y="569.0000000000001" font-size="10.8" text-anchor="end" fill="#000" style="">20</text>
<text x="336.3" y="589.9000000000001" font-size="10.8" text-anchor="end" fill="#000" style="">10</text>
<text x="336.3" y="610.8000000000001" font-size="10.8" text-anchor="end" fill="#000" style="">0</text>
<text x="336.3" y="631.7" font-size="10.8" text-anchor="end" fill="#000" style="">-10</text>
<text x="336.3" y="652.6" font-size="10.8" text-anchor="end" fill="#000" style="">-20</text>
<text x="336.3" y="673.5000000000001" font-size="10.8" text-anchor="end" fill="#000" style="">-30</text>
<text x="336.3" y="694.4000000000001" font-size="10.8" text-anchor="end" fill="#000" style="">-40</text>
<text x="336.3" y="715.3000000000001" font-size="10.8" text-anchor="end" fill="#000" style="">-50</text>
<rect x="367.0" y="567.7890000000001" width="35.0" height="37.410999999999945" fill="#fff" stroke="#000" stroke-width="1.2"/>
<line x1="384.4" y1="567.7890000000001" x2="384.4" y2="557.966" stroke="#000" stroke-width="1.2"/>
<line x1="381.6" y1="557.966" x2="387.4" y2="557.966" stroke="#000" stroke-width="1.5"/>
<rect x="454.2" y="605.2" width="36" height="60.610000000000014" fill="#000" stroke="none" stroke-width="1"/>
<line x1="472.5" y1="665.8100000000001" x2="472.5" y2="691.5" stroke="#000" stroke-width="1.2"/>
<line x1="469.8" y1="691.5" x2="475.6" y2="691.5" stroke="#000" stroke-width="1.5"/>
<text x="364.6" y="624.3" font-size="10.4" text-anchor="start" fill="#000" textLength="45.8" lengthAdjust="spacingAndGlyphs" style="">HB57dex</text>
<text x="447.8" y="602.7" font-size="10.4" text-anchor="start" fill="#000" textLength="56.8" lengthAdjust="spacingAndGlyphs" style="">Goat anti-<tspan font-weight="normal">µ</tspan></text>
</svg></body></html>
